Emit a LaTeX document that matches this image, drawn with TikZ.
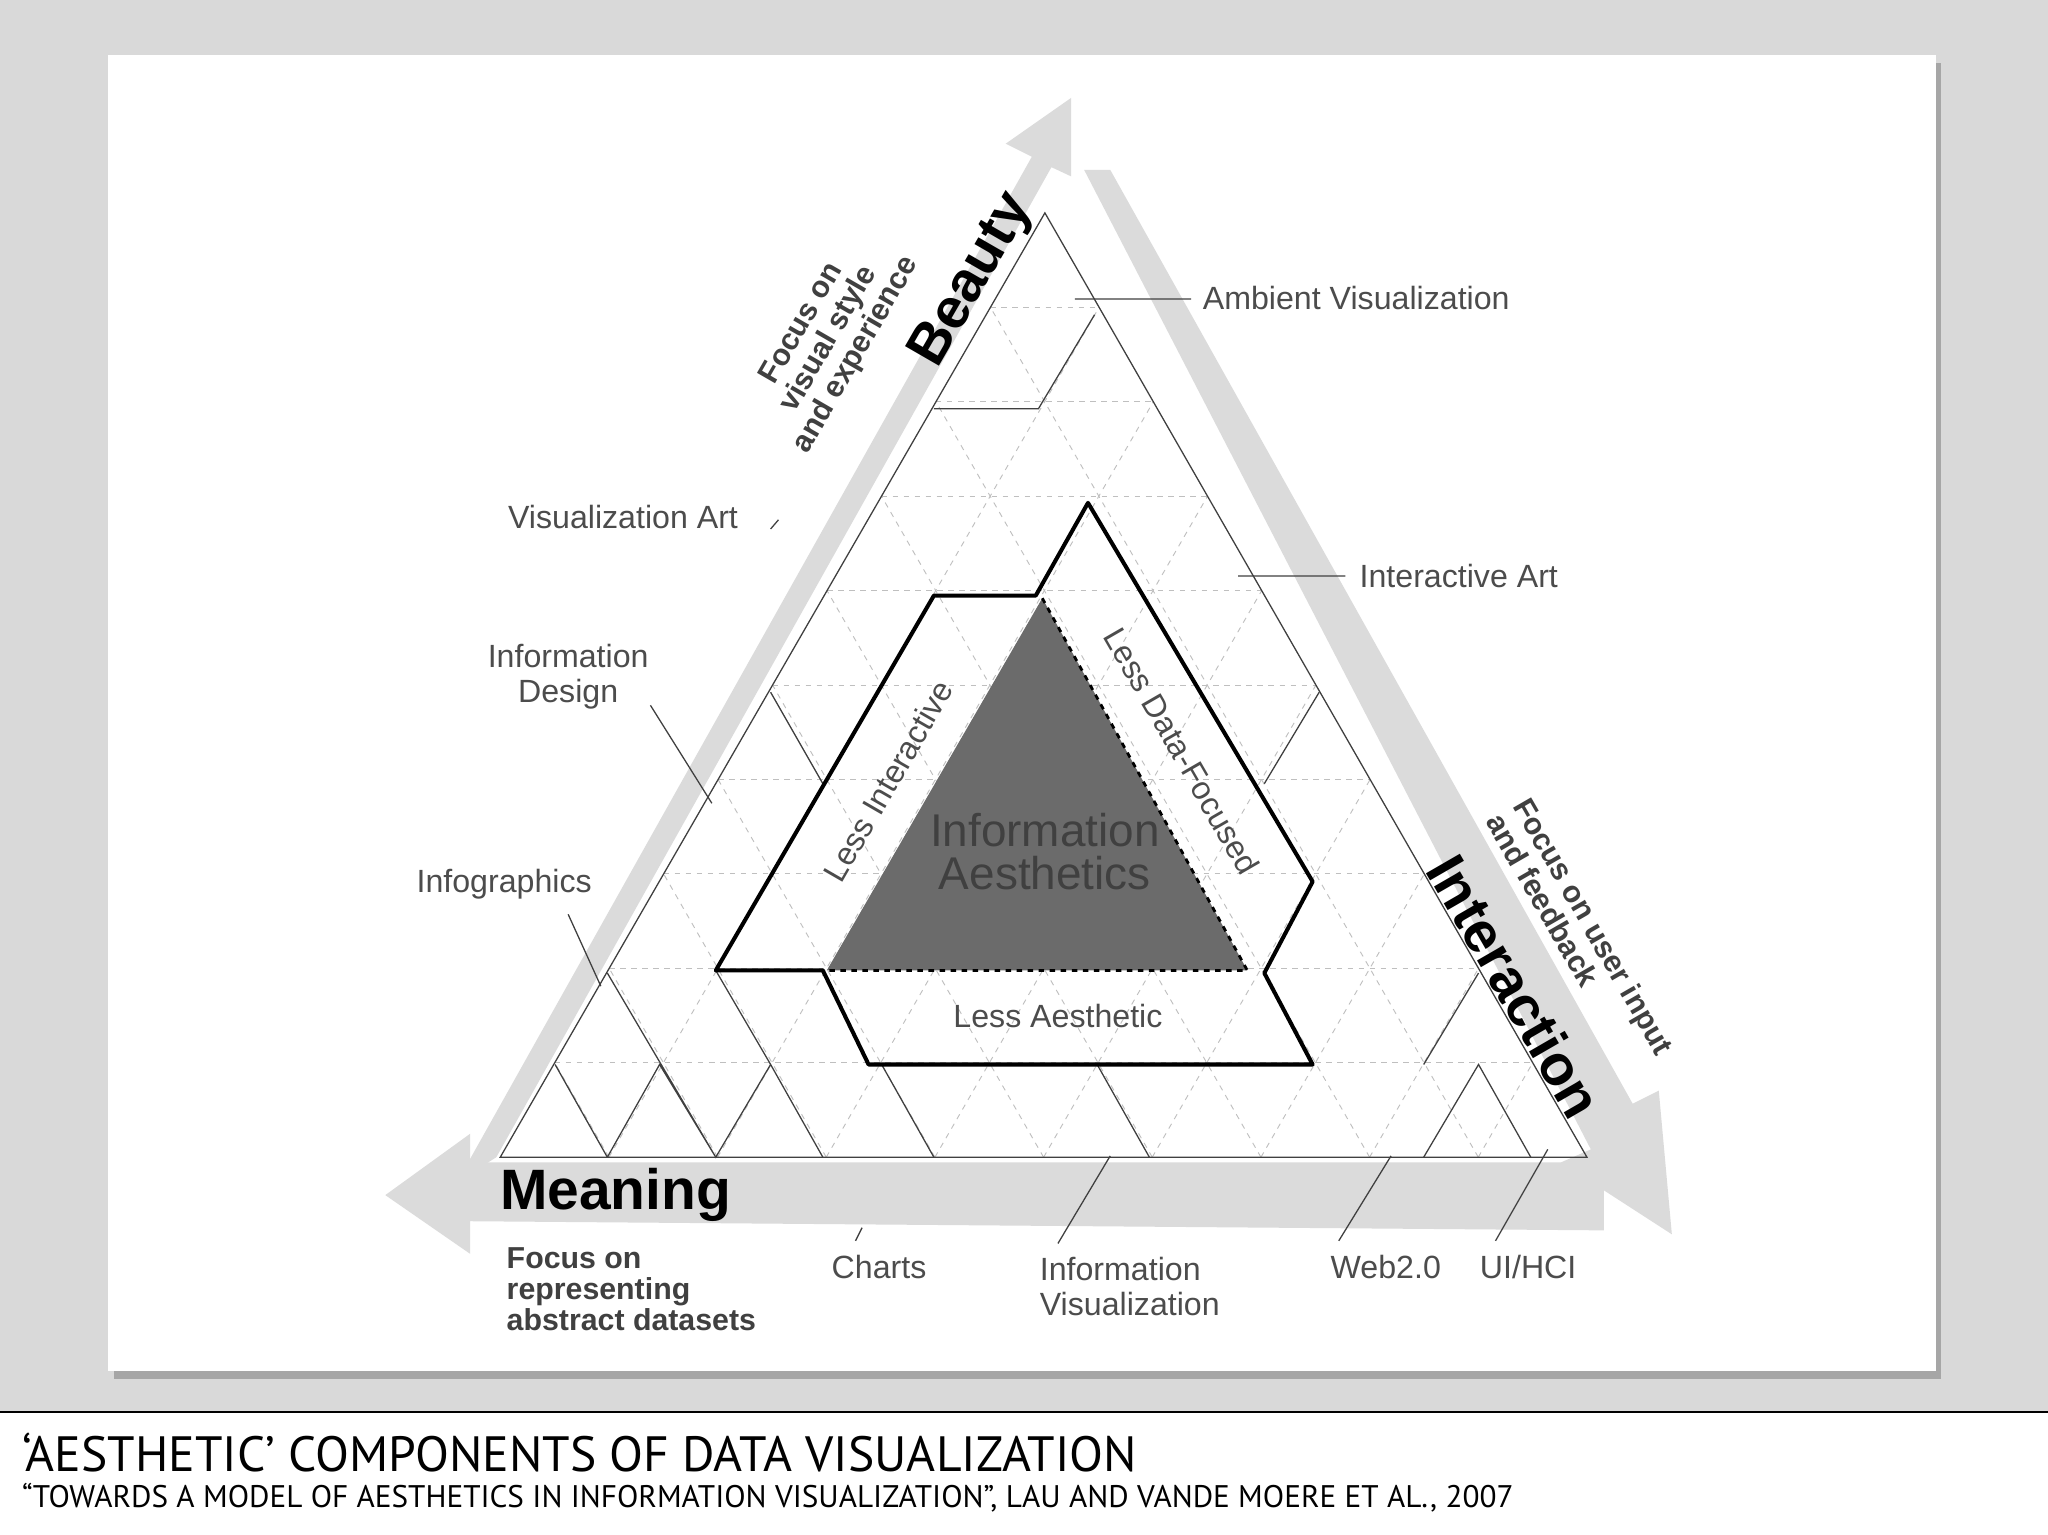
\documentclass[tikz,border=0pt]{standalone}
\usepackage{fontspec}
\setmainfont{Liberation Sans}
\newfontfamily\capfont{PT Sans}
\usetikzlibrary{calc}
\begin{document}
\begin{tikzpicture}[x=0.025cm,y=-0.025cm,
  lbl/.style={text=black!70,font=\fontsize{17.5}{19}\selectfont,align=left},
  bld/.style={text=black!75,font=\bfseries\fontsize{16.5}{17}\selectfont,align=left},
  thin/.style={black!75,line width=0.7pt},
  thick/.style={black,line width=2.2pt},
  arr/.style={fill=black!14,draw=none}]
\useasboundingbox (0,0) rectangle (1568,1175);
\fill[black!15] (0,0) rectangle (1568,1080);
\fill[black!35] (87,48) rectangle (1486,1056);
\fill[white] (83,42) rectangle (1482,1050);
\fill[white] (0,1081) rectangle (1568,1175);
\draw[black,line width=1.2pt] (0,1081) -- (1568,1081);
% gray arrows
\fill[arr] (350,905) -- (790,120) -- (770,110) -- (820,75) -- (820,135) -- (805,128) -- (380,886) -- cycle;
\fill[arr] (830,130) -- (850,130) -- (1250,845) -- (1270,835) -- (1280,945) -- (1195,890) -- (1218,880) -- cycle;
\fill[arr] (1228,890) -- (1228,942) -- (360,935) -- (360,960) -- (295,915) -- (360,868) -- (360,890) -- cycle;
% grid
\coordinate (L) at (383,886); \coordinate (R) at (1215,886); \coordinate (T) at (800,163);
\foreach \i in {1,...,9}{
  \draw[black!25,dashed,line width=0.5pt] ($(L)!\i/10!(T)$) -- ($(R)!\i/10!(T)$);
  \draw[black!25,dashed,line width=0.5pt] ($(L)!\i/10!(R)$) -- ($(T)!\i/10!(R)$);
  \draw[black!25,dashed,line width=0.5pt] ($(R)!\i/10!(L)$) -- ($(T)!\i/10!(L)$);
}
\draw[thin] (L) -- (R) -- (T) -- cycle;
% solid sawtooth lines
\draw[thin] (425,815) -- (465,886) (465,886) -- (505,815) -- (548,886) -- (590,815) -- (630,886)
  (548,886) -- (465,745) (548,743) -- (590,815) (590,530) -- (630,600)
  (715,886) -- (675,815) (840,815) -- (880,886) (1090,886) -- (1132,815) -- (1172,886)
  (1090,815) -- (1132,745) (968,600) -- (1010,530)
  (715,313) -- (795,313) -- (838,241);
% thick shape
\draw[thick,line join=round] (548,743) -- (630,743) -- (665,815) -- (1005,815) -- (968,745) -- (1005,675) -- (833,385) -- (793,456) -- (715,456) -- cycle;
\fill[black!58] (633,743) -- (798,458) -- (955,743) -- cycle;
\draw[line width=1.5pt,dashed] (798,458) -- (955,743) -- (633,743);
% leader lines
\draw[thin] (823,229) -- (912,229) (948,441) -- (1030,441) (590,405) -- (596,398)
  (498,540) -- (545,615) (435,700) -- (460,755) (655,950) -- (660,940)
  (810,952) -- (850,885) (1025,950) -- (1065,885) (1145,950) -- (1185,880);
% labels
\node[lbl,anchor=west] at (916,228) {Ambient Visualization};
\node[lbl,anchor=west] at (1036,441) {Interactive Art};
\node[lbl] at (477,396) {Visualization Art};
\node[lbl,align=center] at (435,518) {Information\\Design};
\node[lbl] at (386,677) {Infographics};
\node[lbl] at (673,970) {Charts};
\node[lbl] at (865,985) {Information\\Visualization};
\node[lbl] at (1061,970) {Web2.0};
\node[lbl] at (1170,970) {UI/HCI};
\node[lbl] at (810,778) {Less Aesthetic};
\node[lbl,rotate=60] at (680,598) {Less Interactive};
\node[lbl,rotate=-60] at (905,575) {Less Data-Focused};
\node[text=black!75,font=\fontsize{25}{23}\selectfont,align=center] at (800,652) {Information\\Aesthetics};
\node[bld,rotate=60,align=center] at (635,260) {Focus on\\visual style\\and experience};
\node[bld,rotate=-60,align=left] at (1210,715) {Focus on user input\\and feedback};
\node[bld,anchor=north west] at (383,950) {Focus on\\representing\\abstract datasets};
\node[font=\bfseries\fontsize{31}{31}\selectfont,rotate=60] at (745,215) {Beauty};
\node[font=\bfseries\fontsize{31}{31}\selectfont,rotate=-60] at (1160,755) {Interaction};
\node[font=\bfseries\fontsize{31}{31}\selectfont,anchor=west] at (378,915) {Meaning};
\node[anchor=west,font=\capfont\fontsize{27}{27}\selectfont] at (12,1112) {‘AESTHETIC’ COMPONENTS OF DATA VISUALIZATION};
\node[anchor=west,font=\capfont\fontsize{17}{17}\selectfont] at (12,1147) {“TOWARDS A MODEL OF AESTHETICS IN INFORMATION VISUALIZATION”, LAU AND VANDE MOERE ET AL., 2007};
\end{tikzpicture}
\end{document}
